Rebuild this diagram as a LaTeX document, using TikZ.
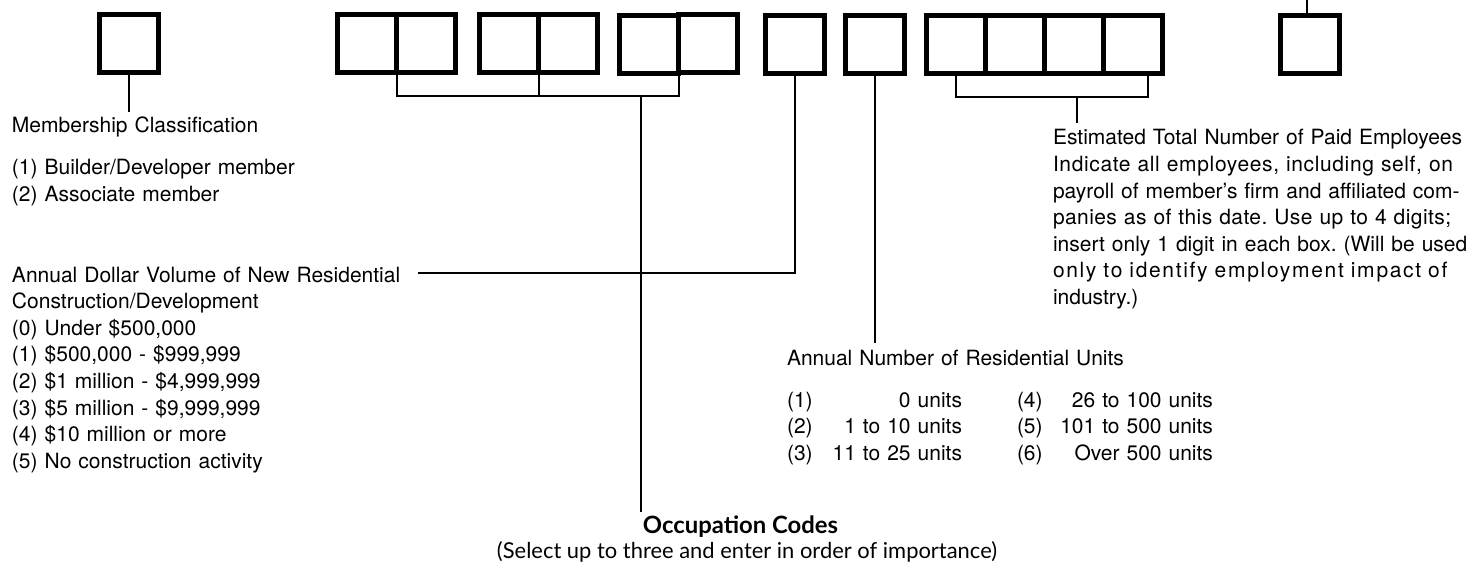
\documentclass[tikz,border=0pt]{standalone}
\usepackage{fontspec}
\setmainfont{TeX Gyre Heros}
\newfontfamily\occfont{Lato}
\frenchspacing
\usetikzlibrary{calc}
\begin{document}
\begin{tikzpicture}[x=1pt,y=-1pt,
  digitbox/.style={draw, line width=5pt, minimum width=59pt, minimum height=58pt, inner sep=0pt, outer sep=2.5pt},
  conn/.style={line width=2pt},
  lbl/.style={inner sep=0pt, outer sep=0pt, font=\fontsize{21}{26.6}\selectfont, align=left, anchor=base west},
]
\useasboundingbox (0,0) rectangle (1471,564);
% boxes
\node[digitbox] (M)  at (128.5,44) {};
\node[digitbox] (A1) at (367,44) {};
\node[digitbox] (A2) at (426,44) {};
\node[digitbox] (B1) at (509,44) {};
\node[digitbox] (B2) at (568,44) {};
\node[digitbox] (C1) at (649,44.5) {};
\node[digitbox] (C2) at (708,44) {};
\node[digitbox] (D)  at (795,44.5) {};
\node[digitbox] (E)  at (875,44.5) {};
\node[digitbox] (F1) at (955.5,44.5) {};
\node[digitbox] (F2) at (1014.5,44.5) {};
\node[digitbox] (F3) at (1073.5,44.5) {};
\node[digitbox] (F4) at (1132.5,44.5) {};
\node[digitbox] (G)  at (1309.5,44.5) {};
% texts
\node[lbl, text width=440pt] (memb) at (12,133) {Membership Classification\\[15.4pt]
(1) Builder/Developer member\\
(2) Associate member};
\node[lbl, text width=400pt] (adv) at (12,282) {Annual Dollar Volume of New Residential\\
Construction/Development\\
(0) Under \$500,000\\
(1) \$500,000 - \$999,999\\
(2) \$1 million - \$4,999,999\\
(3) \$5 million - \$9,999,999\\
(4) \$10 million or more\\
(5) No construction activity};
\node[lbl, text width=404pt] (emp) at (1053,145) {\makebox[\linewidth][s]{Estimated Total Number of Paid Employees}\\
\makebox[\linewidth][s]{\addfontfeature{LetterSpace=3}Indicate all employees, including self, on}\\
\makebox[\linewidth][s]{payroll of member’s firm and affiliated com-}\\
\makebox[\linewidth][s]{\addfontfeature{LetterSpace=2}panies as of this date. Use up to 4 digits;}\\
\makebox[\linewidth][s]{insert only 1 digit in each box. (Will be used}\\
\makebox[\linewidth][s]{\addfontfeature{LetterSpace=8}only to identify employment impact of}\\
industry.)};
\node[lbl, text width=440pt] (anu) at (787,365) {Annual Number of Residential Units};
\node[lbl, text width=440pt] (anuitems) at (787,407) {%
\makebox[175pt]{(1)\hfill 0 units}\hspace{55pt}\makebox[196pt]{(4)\hfill 26 to 100 units}\\
\makebox[175pt]{(2)\hfill 1 to 10 units}\hspace{55pt}\makebox[196pt]{(5)\hfill 101 to 500 units}\\
\makebox[175pt]{(3)\hfill 11 to 25 units}\hspace{55pt}\makebox[196pt]{(6)\hfill Over 500 units}};
\node[inner sep=0pt, anchor=base] (occ) at (740.5,533) {\resizebox{195pt}{!}{\occfont\bfseries Occupation Codes}};
\node[inner sep=0pt, anchor=base] (occsub) at (747,558.5) {\resizebox{500pt}{!}{\occfont (Select up to three and enter in order of importance)}};
% connectors
\coordinate (brY) at (0,96);
\coordinate (divA) at ($(A1.center)!.5!(A2.center)$);
\coordinate (divB) at ($(B1.center)!.5!(B2.center)$);
\coordinate (divC) at ($(C1.center)!.5!(C2.center)$);
\draw[conn] (divA |- A1.south) -- (divA |- brY) -- (divC |- brY) -- (divC |- C1.south);
\draw[conn] (divB |- B1.south) -- (divB |- brY);
\coordinate (occtop) at (641,96);
\coordinate (occend) at (641,512);
\draw[conn] (occtop) -- (occend);
\draw[conn] (M.south) -- ($(M.south |- memb.north)+(0,-5)$);
\coordinate (advend) at (418,273);
\draw[conn] (D.south) |- (advend);
\draw[conn] (E.south) -- ($(E.south |- anu.north)+(0,-7)$);
\coordinate (brF) at (0,97);
\coordinate (fR) at (1148,97);
\draw[conn] (F1.south) -- (F1.south |- brF) -- (fR) -- (fR |- F4.south);
\coordinate (fstem) at (1077,97);
\draw[conn] (fstem) -- ($(fstem |- emp.north)+(0,-7)$);
\coordinate (gtop) at (1307,0);
\draw[conn] (G.north -| gtop) -- (gtop);
\end{tikzpicture}
\end{document}
